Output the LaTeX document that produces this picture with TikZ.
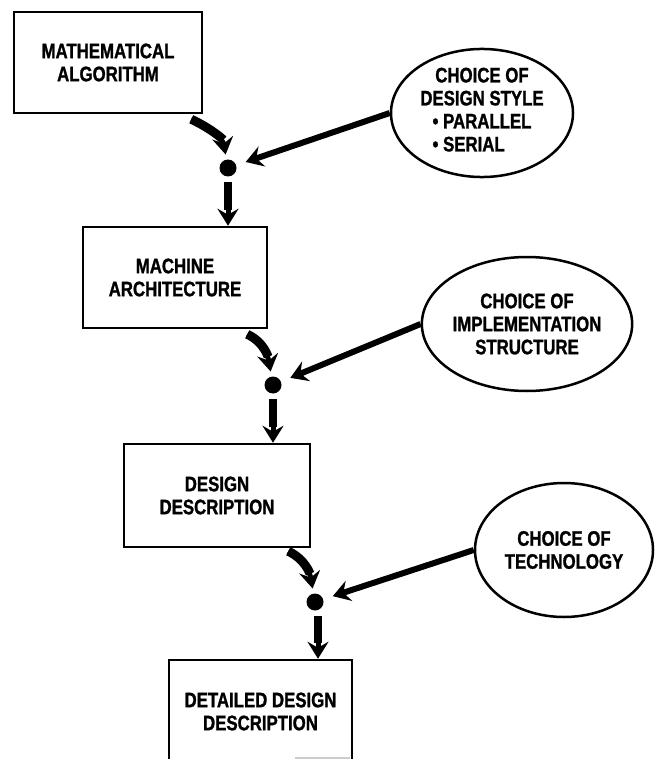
\documentclass[tikz,border=0pt]{standalone}
\usepackage{fontspec}
\setmainfont{Liberation Sans}[FakeStretch=0.8,FakeBold=1.2]
\usetikzlibrary{arrows.meta,shapes.geometric}

\begin{document}
\begin{tikzpicture}[x=1pt,y=1pt,
  lbl/.style={font=\fontsize{21}{23}\selectfont\bfseries, align=center},
  stage/.style={lbl, draw, line width=2.5pt, minimum width=186pt, minimum height=101pt, inner sep=0pt},
  choice/.style={lbl, draw, ellipse, line width=2.5pt, inner sep=0pt},
  junction/.style={circle, fill, minimum size=17pt, inner sep=0pt},
  flow/.style={line width=5pt, -{Stealth[length=17pt,width=21pt,inset=6pt]}},
  curvein/.style={flow, line width=5pt, shorten >=5pt},
  thicktail/.style={line width=9pt},
  feed/.style={flow, line width=6pt, shorten >=10pt},
  drop/.style={flow, line width=5pt, shorten <=14pt},
  droptail/.style={line width=8pt, shorten <=14pt, shorten >=16pt},
]
\useasboundingbox (0,0) rectangle (654,-759);

% design stages
\node[stage, minimum width=188pt] (b1) at (108,-62.5) {MATHEMATICAL\\ALGORITHM};
\node[stage, minimum width=184pt] (b2) at (175,-277.5) {MACHINE\\ARCHITECTURE};
\node[stage, minimum height=103pt] (b3) at (217,-495.5) {DESIGN\\DESCRIPTION};
\node[stage, minimum width=183pt, minimum height=103pt] (b4) at (260.5,-711.5) {DETAILED DESIGN\\DESCRIPTION};

% design choices
\node[choice, minimum width=182pt, minimum height=120pt] (e1) at (482,-113)
  {CHOICE OF\\DESIGN STYLE\\\begin{tabular}[t]{@{}l@{}}• PARALLEL\\• SERIAL\end{tabular}};
\node[choice, minimum width=188pt, minimum height=134pt] (e2) at (527,-324)
  {CHOICE OF\\IMPLEMENTATION\\STRUCTURE};
\node[choice, minimum width=178pt, minimum height=134pt] (e3) at (564,-550)
  {CHOICE OF\\TECHNOLOGY};

% junction points
\node[junction] (d1) at (228,-168) {};
\node[junction] (d2) at (273,-385) {};
\node[junction] (d3) at (315,-602) {};

% stage into junction: thick tail, then the arrow
\draw[thicktail, shorten >=20pt] ([shift={(-12,-5)}]b1.south east) to[out=-25,in=100] (d1);
\draw[curvein] ([shift={(-12,-5)}]b1.south east) to[out=-25,in=100] (d1);
\draw[thicktail, shorten >=20pt] ([shift={(-21,-5)}]b2.south east) to[out=-25,in=100] (d2);
\draw[curvein] ([shift={(-21,-5)}]b2.south east) to[out=-25,in=100] (d2);
\draw[thicktail, shorten >=20pt] ([shift={(-23,-3)}]b3.south east) to[out=-25,in=100] (d3);
\draw[curvein] ([shift={(-23,-3)}]b3.south east) to[out=-25,in=100] (d3);

% choice into junction
\draw[feed] (e1.west) -- (d1);
\draw[feed] (e2.west) -- (d2);
\draw[feed] (e3.west) -- (d3);

% junction into next stage
\draw[droptail] (d1.center) -- (d1.center |- b2.north);
\draw[drop] (d1.center) -- (d1.center |- b2.north);
\draw[droptail] (d2.center) -- (d2.center |- b3.north);
\draw[drop] (d2.center) -- (d2.center |- b3.north);
\draw[droptail] ([xshift=3pt]d3.center) -- ([xshift=3pt]d3.center |- b4.north);
\draw[drop] ([xshift=3pt]d3.center) -- ([xshift=3pt]d3.center |- b4.north);

% faint trace at the lower edge
\draw[gray!40, line width=1.5pt] (295,-758) -- (350,-758);
\end{tikzpicture}
\end{document}
